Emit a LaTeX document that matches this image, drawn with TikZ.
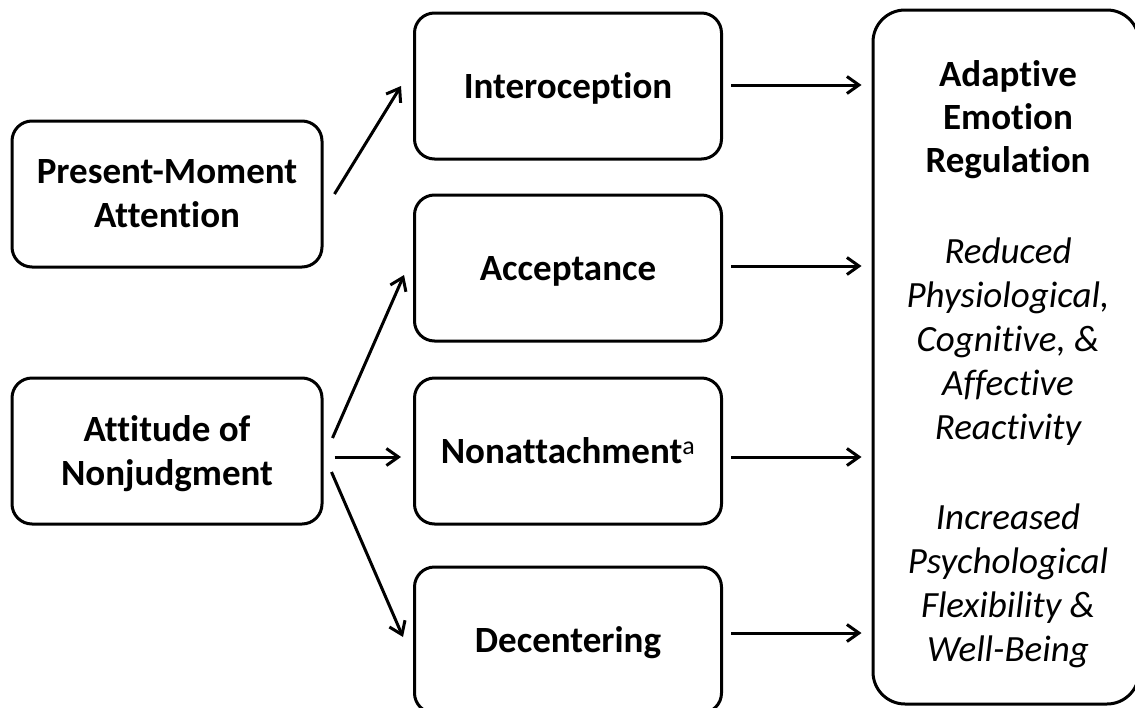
\documentclass[tikz,border=0pt]{standalone}
\usepackage{fontspec}
\setmainfont{Carlito}[Ligatures=NoCommon]
\usetikzlibrary{positioning,arrows.meta}

\begin{document}
\begin{tikzpicture}[
            x=1pt, y=-1pt,
            box/.style={
                rectangle,
                rounded corners=20pt,
                line width=3pt,
                minimum width=307pt,
                minimum height=146pt,
                inner sep=0pt,
                text depth=0pt,
                align=center,
                draw=black,
                font=\fontsize{37}{44}\selectfont\bfseries
            },
            cause/.style={
                box,
                minimum width=310pt
            },
            outcome/.style={
                box,
                rounded corners=32pt,
                minimum width=266pt,
                minimum height=694pt
            },
            head/.style={
                align=center,
                inner sep=0pt,
                font=\fontsize{37}{43}\selectfont\bfseries
            },
            gain/.style={
                align=center,
                inner sep=0pt,
                font=\fontsize{37}{44}\selectfont\itshape
            },
            link/.style={
                line width=3pt,
                -{Straight Barb[length=12pt,width=17pt]}
            },
        ]

            \useasboundingbox (0,0) rectangle (1135,707);

            % facets of mindfulness
            \node[cause] (pma) at (167,194) {Present-Moment\\Attention};
            \node[cause] (aon) at (167,451) {Attitude of\\Nonjudgment};

            % mechanisms
            \node[box] (intero) at (568,86) {Interoception};
            \node[box] (accept) [below=33pt of intero] {Acceptance};
            \node[box] (nonatt) [below=34pt of accept] {Nonattachment{\fontseries{m}\selectfont\textsuperscript{a}}};
            \node[box] (decent) [below=40pt of nonatt] {Decentering};

            % outcome
            \node[outcome] (aer) at (1006,357) {};
            \node[head] (aerhead) at (1008,120) {Adaptive\\Emotion\\Regulation};
            \node[gain] (aerless) at (1008,342) {Reduced\\Physiological,\\Cognitive, \&\\Affective\\Reactivity};
            \node[gain] (aermore) at (1008,586) {Increased\\Psychological\\Flexibility \&\\Well-Being};

            \draw[link] ([xshift=11pt]pma.east) -- ([xshift=-12pt]intero.west);
            \draw[link] ([xshift=9pt,yshift=13pt]aon.east) -- ([xshift=-9pt,yshift=-7pt]accept.west);
            \draw[link] ([xshift=11pt,yshift=-6pt]aon.east) -- ([xshift=-12pt,yshift=-6pt]nonatt.west);
            \draw[link] ([xshift=8pt,yshift=-21pt]aon.east) -- ([xshift=-10pt,yshift=3pt]decent.west);

            \draw[link, shorten <=8pt, shorten >=10pt] ([yshift=1pt]intero.east) -- ([yshift=1pt]intero.east -| aer.west);
            \draw[link, shorten <=8pt, shorten >=10pt] ([yshift=2pt]accept.east) -- ([yshift=2pt]accept.east -| aer.west);
            \draw[link, shorten <=8pt, shorten >=10pt] ([yshift=-6pt]nonatt.east) -- ([yshift=-6pt]nonatt.east -| aer.west);
            \draw[link, shorten <=8pt, shorten >=10pt] ([yshift=7pt]decent.east) -- ([yshift=7pt]decent.east -| aer.west);
        \end{tikzpicture}
\end{document}
